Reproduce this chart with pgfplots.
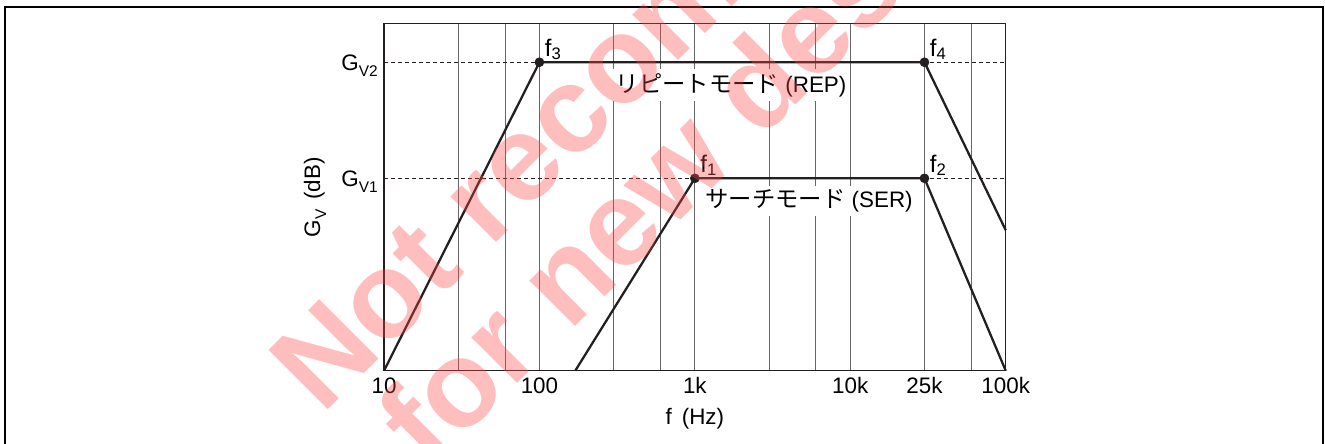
\documentclass[border=0pt]{standalone}
\usepackage{fontspec}
\setmainfont{Liberation Sans}
\newfontfamily\jp{Noto Sans CJK JP}
\usepackage{pgfplots}
\pgfplotsset{compat=1.18}
\definecolor{wm}{RGB}{255,70,70}
\definecolor{ink}{RGB}{35,31,32}
\newcommand\fs{\fontsize{16.8}{19}\selectfont}
\newcommand\sub[1]{\raisebox{-4.5pt}{\fontsize{11.6}{12}\selectfont #1}}
\newcommand\fsub[1]{{\fontsize{18}{20}\selectfont f\raisebox{-2.2pt}{\fontsize{12.5}{13}\selectfont #1}}}
\newcommand\kana[1]{{\jp\fontsize{17.5}{19}\selectfont #1}}

\begin{document}
\begin{tikzpicture}[x=0.75pt,y=0.75pt]
\clip (0,0) rectangle (1325,443);
\path[use as bounding box] (0,0) rectangle (1325,443);
\fill[white] (0,0) rectangle (1325,443);
\draw[line width=1.5pt] (5,-5) -- (5,436.3) -- (1323.3,436.3) -- (1323.3,-5);

\begin{axis}[
  at={(288pt,54.2pt)}, anchor=south west,
  scale only axis, width=466.3pt, height=260.25pt,
  xmode=log, log basis x=10,
  xmin=10, xmax=100000, ymin=0, ymax=100,
  xtick={10,100,1000,10000,30000,100000},
  xticklabels={10,100,1k,10k,25k,100k},
  minor xtick={30,60,300,600,3000,6000,60000},
  ytick={55.45,88.9},
  yticklabels={G\sub{V1},G\sub{V2}},
  xmajorgrids, xminorgrids,
  grid style={black!60, line width=0.6pt},
  major tick length=0pt, minor tick length=0pt,
  axis line style={ink, line width=1pt},
  tick label style={font=\fs, inner sep=0pt},
  xticklabel style={anchor=base, yshift=-16.7pt},
  yticklabel style={anchor=base east, xshift=-4.5pt, yshift=-6pt},
  xlabel={f\hspace{0.45em}(Hz)},
  ylabel={G\sub{V}\hspace{0.45em}(dB)},
  label style={font=\fs, inner sep=0pt},
  xlabel style={at={(axis description cs:0.5,-0.1536)}, anchor=base},
  ylabel style={at={(axis description cs:-0.1029,0.5)}, anchor=base},
  clip=false,
]
% reference levels
\addplot[ink, line width=0.7pt, dash pattern=on 3pt off 2.25pt] coordinates {(10,88.9) (100000,88.9)};
\addplot[ink, line width=0.7pt, dash pattern=on 3pt off 2.25pt] coordinates {(10,55.45) (100000,55.45)};

% mode labels
\node[fill=white, inner sep=3pt, font=\fs] at (axis cs:1711,82.3) {\kana{リピートモード} (REP)};
\node[fill=white, inner sep=3pt, font=\fs] at (axis cs:5432,48.9) {\kana{サーチモード} (SER)};

% repeat mode
\addplot[ink, line width=1.7pt, line join=round] coordinates {(10,0) (100,88.9) (30000,88.9) (100000,40.5)};
% search mode
\addplot[ink, line width=1.7pt, line join=round] coordinates {(170,0) (1000,55.45) (30000,55.45) (100000,0)};
% corner points
\addplot[only marks, mark=*, mark size=3.4pt, ink] coordinates {(100,88.9) (30000,88.9) (1000,55.45) (30000,55.45)};

\node[anchor=base west, inner sep=0pt, xshift=3.9pt, yshift=4.2pt] at (axis cs:100,88.9) {\fsub{3}};
\node[anchor=base west, inner sep=0pt, xshift=3.9pt, yshift=4.2pt] at (axis cs:30000,88.9) {\fsub{4}};
\node[anchor=base west, inner sep=0pt, xshift=3.9pt, yshift=4.2pt] at (axis cs:1000,55.45) {\fsub{1}};
\node[anchor=base west, inner sep=0pt, xshift=3.9pt, yshift=4.2pt] at (axis cs:30000,55.45) {\fsub{2}};
\end{axis}

% watermark
\begin{scope}[every node/.style={rotate=45, anchor=base west, text=wm, text opacity=0.35, inner sep=0pt, font=\fontsize{91.5}{92}\bfseries\selectfont}]
\node at (322.3,27) {Not recommended};
\node at (430,-28.5) {for new designs};
\end{scope}
\end{tikzpicture}
\end{document}
